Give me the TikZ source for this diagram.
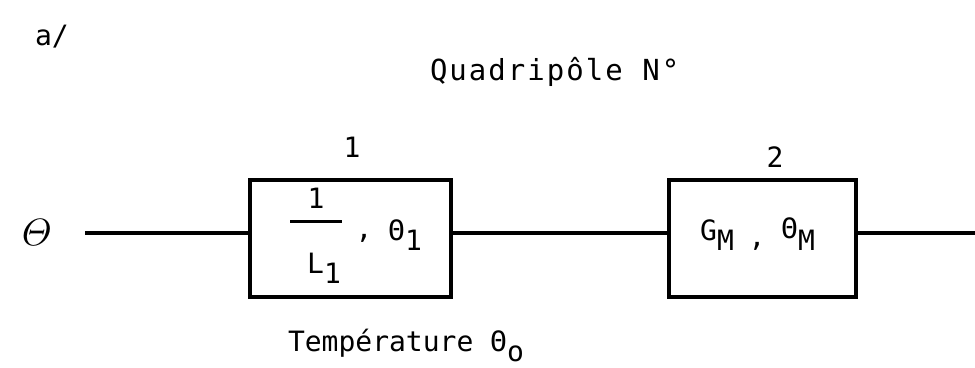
\documentclass[tikz,border=0pt]{standalone}
\usepackage{amsmath}
\usepackage{graphicx}
\usepackage{fontspec}
\setmonofont{DejaVu Sans Mono}
\newfontfamily\quadfont{DejaVu Sans Mono}[LetterSpace=7]
\begin{document}
\begin{tikzpicture}[x=1pt,y=-1pt,
  txt/.style={inner sep=0pt,outer sep=0pt,font=\ttfamily\fontsize{28}{32}\selectfont,anchor=base west},
  txtc/.style={txt,anchor=base},
  box/.style={draw,line width=3.4pt,inner sep=0pt},
  wire/.style={line width=3.4pt}]
\useasboundingbox (0,0) rectangle (975,367);
% labels
\node[txt] (a) at (35,45) {a/};
\node[txt,font=\quadfont\fontsize{29}{33}\selectfont] (quad) at (430,80) {Quadripôle N°};
\node[txtc] (n1) at (352,157) {1};
\node[txtc] (n2) at (775,167) {2};
% boxes
\node[box,minimum width=201pt,minimum height=117pt] (b1) at (350.5,238.5) {};
\node[box,minimum width=187pt,minimum height=117pt] (b2) at (762.5,238.5) {};
% wires
\coordinate (in) at (85,233);
\coordinate (out) at (975,233);
\draw[wire] (in) -- (in -| b1.west);
\draw[wire] (b1.east |- in) -- (b2.west |- in);
\draw[wire] (b2.east |- in) -- (out);
% input symbol
\node[inner sep=0pt] (theta) at (37,233) {\scalebox{3.8}{$\varTheta$}};
% box 1 contents
\node[txtc] (num) at (316,208) {1};
\coordinate (barL) at (290,221);
\coordinate (barR) at (342,221);
\draw[line width=3pt] (barL) -- (barR);
\node[txt] (L) at (307,273) {L};
\node[txt] (Lsub) at (324,283) {1};
\node[txtc] (c1) at (364,238) {,};
\node[txt] (th1) at (388,240) {Θ};
\node[txt] (th1sub) at (405,250) {1};
% box 2 contents
\node[txt] (G) at (700,240) {G};
\node[txt] (GM) at (717,250) {M};
\node[txtc] (c2) at (757,246) {,};
\node[txt] (thM) at (781,238) {Θ};
\node[txt] (thMsub) at (798,250) {M};
% temperature
\node[txt] (temp) at (288,351) {Température};
\node[txt] (th0) at (490,351) {Θ};
\node[txt] (th0sub) at (507,361) {o};
\end{tikzpicture}
\end{document}
